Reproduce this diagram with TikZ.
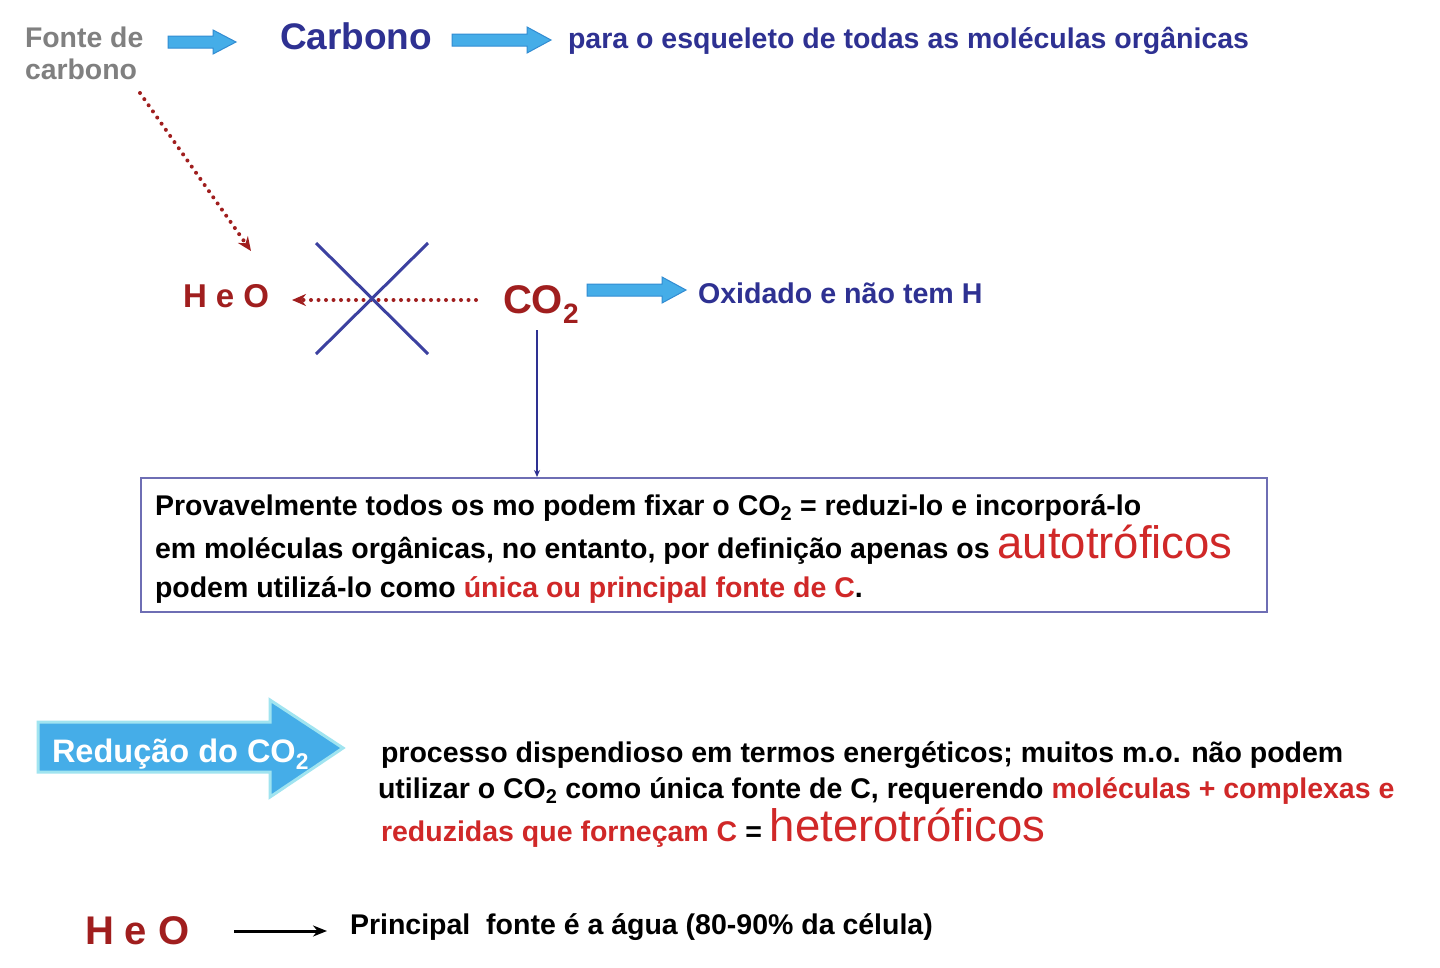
\documentclass[tikz,border=0pt]{standalone}
\usepackage{fontspec}
\setmainfont{Liberation Sans}
\usetikzlibrary{arrows.meta}
\definecolor{tblue}{RGB}{46,49,146}
\definecolor{dred}{RGB}{160,30,30}
\definecolor{bred}{RGB}{208,40,40}
\definecolor{tgray}{RGB}{128,128,128}
\definecolor{boxc}{RGB}{110,110,180}
\definecolor{afill}{RGB}{69,173,232}
\definecolor{aedge}{RGB}{50,140,210}
\definecolor{xcol}{RGB}{60,65,160}
\newcommand{\fs}[1]{\fontsize{#1}{#1}\selectfont}
\begin{document}
\begin{tikzpicture}[x=1pt,y=-1pt,
  txt/.style={inner sep=0pt,outer sep=0pt,anchor=base west,font=\bfseries},
  blockarr/.style={fill=afill,draw=aedge,line width=1pt,line join=miter},
  redots/.style={dred,line width=4pt,line cap=round,dash pattern=on 0pt off 7.5pt,-{Stealth[length=14pt,width=12pt]}}]
\useasboundingbox (0,0) rectangle (1440,967);
\fill[white] (0,0) rectangle (1440,967);
% top row
\node[txt,tgray,font=\bfseries\fs{28.4}] (fonte1) at (25,47) {Fonte de};
\node[txt,tgray,font=\bfseries\fs{28.4}] (fonte2) at (25,79) {carbono};
\node[txt,tblue,font=\bfseries\fs{37}] (carb) at (280,49) {Carbono};
\node[txt,tblue,font=\bfseries\fs{28.5}] (para) at (568,48) {para o esqueleto de todas as moléculas orgânicas};
\draw[blockarr] (168,36) -- (213,36) -- (213,30) -- (236,42) -- (213,54) -- (213,48) -- (168,48) -- cycle;
\draw[blockarr] (452,34) -- (527,34) -- (527,27) -- (551,40) -- (527,53) -- (527,46) -- (452,46) -- cycle;
% middle row
\node[txt,dred,font=\bfseries\fs{33}] (heo1) at (183,307) {H e O};
\node[txt,dred,font=\bfseries\fs{40}] (co2) at (503,313) {CO\textsubscript{2}};
\node[txt,tblue,font=\bfseries\fs{28.6}] (oxid) at (698,303) {Oxidado e não tem H};
\coordinate (d1s) at (140,93);
\coordinate (d1e) at (251,251);
\draw[redots] (d1s) -- (d1e);
\coordinate (d2s) at (476,300);
\coordinate (d2e) at (292,300);
\draw[redots] (d2s) -- (d2e);
\draw[xcol,line width=3pt] (316,243) -- (428,354);
\draw[xcol,line width=3pt] (428,243) -- (316,354);
\draw[blockarr] (587,284) -- (662,284) -- (662,277) -- (686,290) -- (662,303) -- (662,296) -- (587,296) -- cycle;
% box
\node[draw=boxc,line width=2pt,minimum width=1126pt,minimum height=134pt,anchor=north west,inner sep=0pt] (box) at (140,477) {};
\coordinate (vtop) at (537,330);
\draw[tblue,line width=1.2pt,-{Stealth[length=7pt,width=6pt]}] (vtop) -- (vtop |- box.north);
\node[txt,black,font=\bfseries\fs{28.5}] (b1) at (155,515) {Provavelmente todos os mo podem fixar o CO\textsubscript{2} = reduzi-lo e incorporá-lo};
\node[txt,black,font=\bfseries\fs{28.5}] (b2) at (155,558) {em moléculas orgânicas, no entanto, por definição apenas os {\color{bred}\mdseries\fs{45.5}autotróficos}};
\node[txt,black,font=\bfseries\fs{28.5}] (b3) at (155,597) {podem utilizá-lo como {\color{bred}única ou principal fonte de C}.};
% big arrow
\draw[fill=afill,draw={rgb,255:red,160;green,228;blue,240},line width=3pt,line join=miter]
  (38,722) -- (270,722) -- (270,700) -- (343,748) -- (270,797) -- (270,772) -- (38,772) -- cycle;
\node[txt,white,font=\bfseries\fs{32.5}] (red) at (52,762) {Redução do CO\textsubscript{2}};
\node[txt,black,font=\bfseries\fs{28.5}] (p1) at (381,762) {processo dispendioso em termos energéticos; muitos m.o. não podem};
\node[txt,black,font=\bfseries\fs{28.5}] (p2) at (378,798) {utilizar o CO\textsubscript{2} como única fonte de C, requerendo {\color{bred}moléculas + complexas e}};
\node[txt,black,font=\bfseries\fs{28.5}] (p3) at (381,841) {{\color{bred}reduzidas que forneçam C} = {\color{bred}\mdseries\fs{45.5}heterotróficos}};
% bottom
\node[txt,dred,font=\bfseries\fs{40}] (heo2) at (85,944) {H e O};
\node[txt,black,font=\bfseries\fs{28.5}] (princ) at (350,934) {Principal\ \ fonte é a água (80-90\% da célula)};
\coordinate (ba) at (234,931);
\draw[black,line width=3pt,-{Stealth[length=14pt,width=11pt]}] (ba) -- (327,931);
\end{tikzpicture}
\end{document}
